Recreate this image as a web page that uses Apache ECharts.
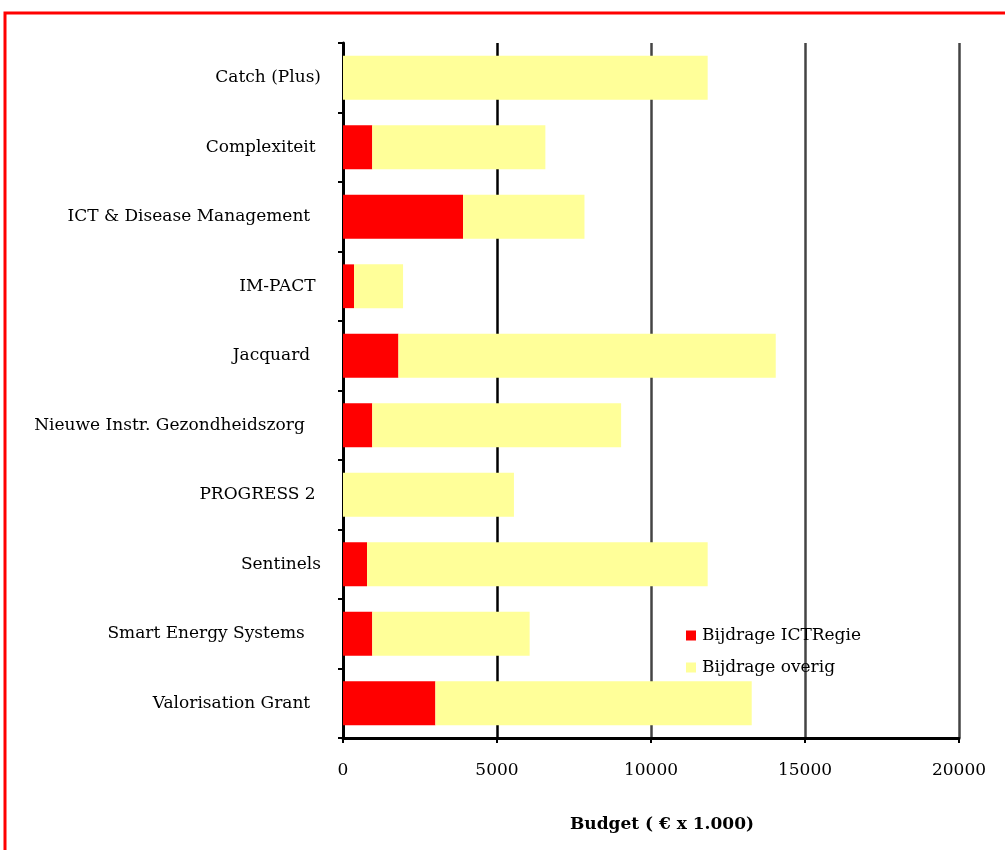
<!DOCTYPE html>
<html>
<head>
<meta charset="utf-8">
<script src="https://cdn.jsdelivr.net/npm/echarts@6/dist/echarts.min.js"></script>
<style>
html,body{margin:0;padding:0;background:#fff;}
#c{width:1005px;height:850px;}
</style>
</head>
<body>
<div id="c"></div>
<script>
const categories = ['Catch (Plus)', 'Complexiteit ', 'ICT & Disease Management  ', 'IM-PACT ', 'Jacquard  ', 'Nieuwe Instr. Gezondheidszorg   ', 'PROGRESS 2 ', 'Sentinels', 'Smart Energy Systems   ', 'Valorisation Grant  '];
const bijdrageICTRegie = [0, 950, 3900, 360, 1800, 950, 0, 780, 950, 3000];
const bijdrageOverig = [11840, 5620, 3940, 1590, 12250, 8080, 5550, 11060, 5110, 10270];
const xTicks = [0, 5000, 10000, 15000, 20000];
const seriesNames = ['Bijdrage ICTRegie', 'Bijdrage overig'];
const axisTitle = 'Budget ( € x 1.000)';

const FONT = 'DejaVu Serif';
const chart = echarts.init(document.getElementById('c'), null, {renderer: 'canvas'});
chart.setOption({
  animation: false,
  backgroundColor: '#fff',
  textStyle: {fontFamily: FONT, color: '#000'},
  graphic: [{
    type: 'polyline',
    shape: {points: [[5, 850], [5, 13], [1005, 13]]},
    style: {stroke: '#ff0000', lineWidth: 3, fill: null}
  }],
  grid: {left: 343, right: 46, top: 43, bottom: 112, containLabel: false},
  legend: {
    orient: 'vertical',
    left: 681, top: 622,
    itemWidth: 10, itemHeight: 10, itemGap: 15,
    icon: 'rect',
    textStyle: {fontFamily: FONT, fontSize: 17, color: '#000', padding: [0, 0, 0, 1]},
    data: seriesNames
  },
  xAxis: {
    type: 'value', min: 0, max: 20000, interval: 5000,
    name: axisTitle, nameLocation: 'middle', nameGap: 78,
    nameTextStyle: {fontFamily: FONT, fontSize: 17, fontWeight: 'bold', color: '#000', padding: [0, 0, 0, 22]},
    axisLine: {show: true, lineStyle: {color: '#000', width: 3}},
    axisTick: {show: true, length: 5, lineStyle: {color: '#000', width: 2}},
    axisLabel: {fontFamily: FONT, fontSize: 17, color: '#000', margin: 24,
      formatter: v => xTicks.includes(v) ? String(v) : ''},
    splitLine: {show: true, lineStyle: {color: ['#000', '#000', '#444', '#444', '#444'], width: 2.5}}
  },
  yAxis: {
    type: 'category', inverse: true, data: categories,
    axisLine: {show: true, lineStyle: {color: '#000', width: 3}},
    axisTick: {show: true, length: 5, lineStyle: {color: '#000', width: 2}},
    axisLabel: {fontFamily: FONT, fontSize: 17, color: '#000', margin: 22}
  },
  series: [
    {name: seriesNames[0], type: 'bar', stack: 'b', data: bijdrageICTRegie,
      itemStyle: {color: '#ff0000'}, barCategoryGap: '37%'},
    {name: seriesNames[1], type: 'bar', stack: 'b', data: bijdrageOverig,
      itemStyle: {color: '#ffff99'}, barCategoryGap: '37%'}
  ]
});
</script>
</body>
</html>
